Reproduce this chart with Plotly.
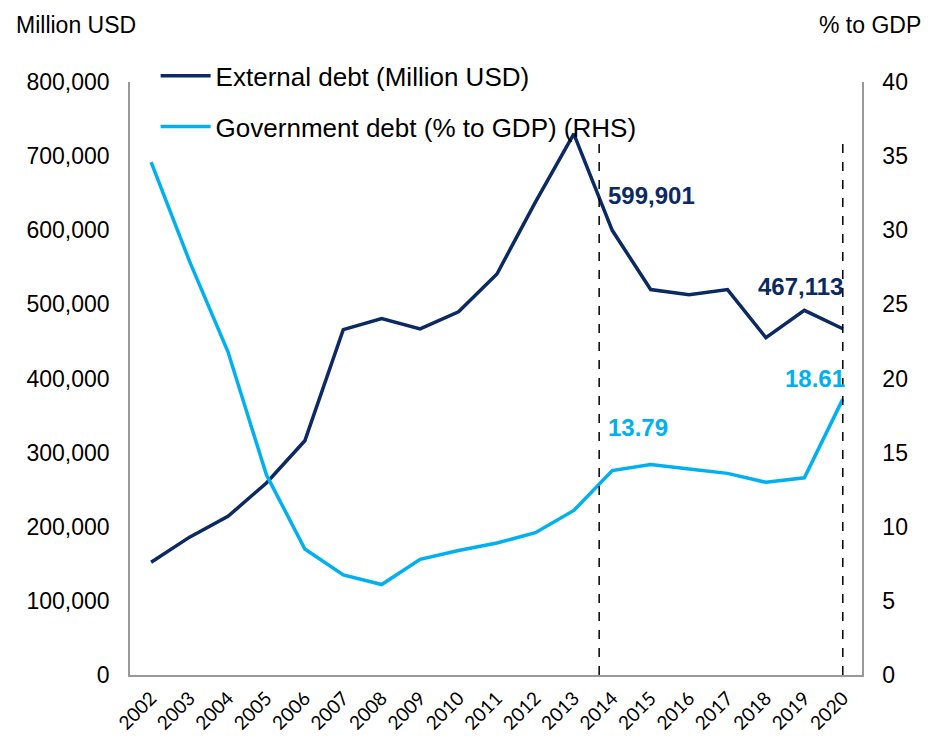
import plotly.graph_objects as go

years = list(range(2002, 2021))
year_labels = [str(y) for y in years]

external_debt = [152000, 186000, 214000, 259000, 316000, 466000, 481000, 467000,
                 490000, 541000, 638000, 730000, 599901, 520000, 513000, 520000,
                 455000, 492000, 467113]
gov_debt_pct = [34.6, 27.9, 21.8, 13.5, 8.5, 6.75, 6.1, 7.8, 8.4, 8.9, 9.6,
                11.1, 13.79, 14.2, 13.9, 13.6, 13.0, 13.3, 18.61]

left_ticks = [0, 100000, 200000, 300000, 400000, 500000, 600000, 700000, 800000]
right_ticks = [0, 5, 10, 15, 20, 25, 30, 35, 40]

NAVY = "#0B2A63"
SKY = "#00B0F0"
FONT = "Liberation Sans, Arial, sans-serif"
PLOT_W, PLOT_H = 732, 593

fig = go.Figure()
fig.add_trace(go.Scatter(
    x=years, y=external_debt, mode="lines", name="External debt (Million USD)",
    line=dict(color=NAVY, width=3.5), legendgroup="a", yaxis="y"))
fig.add_trace(go.Scatter(
    x=years, y=gov_debt_pct, mode="lines", name="Government debt (% to GDP) (RHS)",
    line=dict(color=SKY, width=3.5), legendgroup="b", yaxis="y2"))

# vertical dashed markers
for xv in [2013.66, 2020]:
    fig.add_shape(type="line", xref="x", yref="paper", x0=xv, x1=xv, y0=0, y1=0.902,
                  line=dict(color="black", width=1.5, dash="dash"))

# value labels
i14 = years.index(2014)
i20 = years.index(2020)
fig.add_annotation(x=2014, y=external_debt[i14], text=f"<b>{external_debt[i14]:,}</b>",
                   xanchor="left", yanchor="middle", xshift=-6, yshift=35, showarrow=False,
                   font=dict(color=NAVY, size=24, family=FONT))
fig.add_annotation(x=2020, y=external_debt[i20], text=f"<b>{external_debt[i20]:,}</b>",
                   xanchor="right", yanchor="middle", xshift=2, yshift=42, showarrow=False,
                   font=dict(color=NAVY, size=24, family=FONT))
fig.add_annotation(x=2014, y=gov_debt_pct[i14], yref="y2", text=f"<b>{gov_debt_pct[i14]:.2f}</b>",
                   xanchor="left", yanchor="middle", xshift=-6, yshift=43, showarrow=False,
                   font=dict(color=SKY, size=24, family=FONT))
fig.add_annotation(x=2020, y=gov_debt_pct[i20], yref="y2", text=f"<b>{gov_debt_pct[i20]:.2f}</b>",
                   xanchor="right", yanchor="middle", xshift=4, yshift=21, showarrow=False,
                   font=dict(color=SKY, size=24, family=FONT))

# axis unit titles
fig.add_annotation(x=-116 / PLOT_W, y=1 + 57 / PLOT_H, xref="paper", yref="paper",
                   text="Million USD", showarrow=False, xanchor="left", yanchor="middle",
                   font=dict(size=23, family=FONT))
fig.add_annotation(x=1 + 61 / PLOT_W, y=1 + 57 / PLOT_H, xref="paper", yref="paper",
                   text="% to GDP", showarrow=False, xanchor="right", yanchor="middle",
                   font=dict(size=23, family=FONT))

fig.update_layout(
    width=928, height=740,
    margin=dict(l=130, r=66, t=82, b=65),
    paper_bgcolor="white", plot_bgcolor="white",
    font=dict(family=FONT, size=23, color="black"),
    showlegend=True,
    legend=dict(x=0.035, y=1.05, xanchor="left", yanchor="top",
                bgcolor="rgba(0,0,0,0)", font=dict(size=26, family=FONT),
                tracegroupgap=14, itemwidth=50),
    xaxis=dict(range=[2001.45, 2020.5], tickvals=years, ticktext=year_labels,
               tickangle=-45, showgrid=False, zeroline=False, showline=True,
               linecolor="#999999", linewidth=1.5, ticks="", ticklabelstandoff=3,
               automargin=False,
               tickfont=dict(family="Lato, Carlito, sans-serif", size=19)),
    yaxis=dict(range=[0, 800000], tickvals=left_ticks, tickformat=",",
               showgrid=False, zeroline=False, showline=True, linecolor="#999999",
               linewidth=1.5, ticks="", ticklabelstandoff=14, automargin=False),
    yaxis2=dict(range=[0, 40], tickvals=right_ticks, overlaying="y", side="right",
                showgrid=False, zeroline=False, showline=True, linecolor="#999999",
                linewidth=1.5, ticks="", ticklabelstandoff=14, automargin=False),
)

fig.write_html("out.html")
